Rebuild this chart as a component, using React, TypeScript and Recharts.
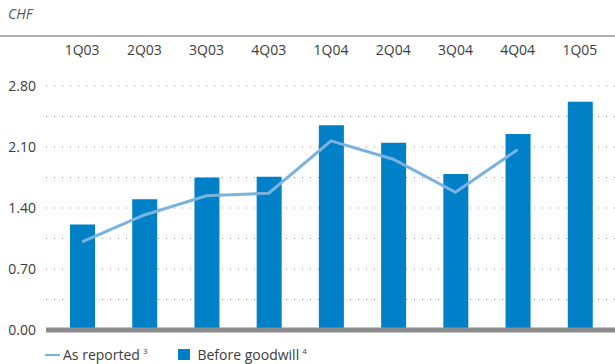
import { ComposedChart, Bar, Line, XAxis, YAxis, CartesianGrid, ReferenceLine } from "recharts"

const quarters = ["1Q03", "2Q03", "3Q03", "4Q03", "1Q04", "2Q04", "3Q04", "4Q04", "1Q05"]
const beforeGoodwill = [1.21, 1.5, 1.75, 1.76, 2.35, 2.15, 1.79, 2.25, 2.62]
const asReported = [1.01, 1.32, 1.54, 1.57, 2.17, 1.96, 1.58, 2.07, null]
const yTicks = [0, 0.35, 0.7, 1.05, 1.4, 1.75, 2.1, 2.45, 2.8]
const labelledTicks = [0, 0.7, 1.4, 2.1, 2.8]

const data = quarters.map((q, i) => ({ q, bg: beforeGoodwill[i], rep: asReported[i] }))

const font = "'Open Sans', 'Noto Sans', sans-serif"
const barBlue = "#0080c6"
const lineBlue = "#7ab3e0"

export default function App() {
  return (
    <div style={{ position: "absolute", left: 0, top: 0, width: 615, height: 364, fontFamily: font, color: "#3c3c3c" }}>
      <div style={{ position: "absolute", left: 8, top: 4, fontSize: 14, fontStyle: "italic", color: "#555" }}>CHF</div>
      <div style={{ position: "absolute", left: 0, top: 35, width: 615, height: 2, background: "#b0b0b0" }} />
      <ComposedChart width={615} height={364} data={data} margin={{ top: 36, right: 0, left: 0, bottom: 34 }}>
        <CartesianGrid vertical={false} stroke="#8a8a8a" strokeDasharray="1 7" />
        <XAxis
          dataKey="q"
          orientation="top"
          height={50}
          axisLine={false}
          tickLine={false}
          tickSize={0}
          tickMargin={31}
          interval={0}
          padding={{ left: 5, right: 4 }}
          tick={{ fill: "#3c3c3c", fontSize: 14, fontFamily: font }}
        />
        <YAxis
          width={46}
          domain={[0, 2.8]}
          ticks={yTicks}
          interval={0}
          axisLine={false}
          tickLine={false}
          tickSize={0}
          tickMargin={10}
          tickFormatter={(v: number) => (labelledTicks.includes(v) ? v.toFixed(2) : "")}
          tick={{ fill: "#3c3c3c", fontSize: 14, fontFamily: font }}
        />
        <Bar dataKey="bg" fill={barBlue} barSize={25} isAnimationActive={false} />
        <Line dataKey="rep" stroke={lineBlue} strokeWidth={3} dot={false} activeDot={false} type="linear" isAnimationActive={false} />
        <ReferenceLine y={0} stroke="#8c8c8c" strokeWidth={5} />
      </ComposedChart>
      <div style={{ position: "absolute", left: 45, top: 345, display: "flex", alignItems: "center", fontSize: 14, whiteSpace: "nowrap" }}>
        <span style={{ display: "inline-block", width: 15, height: 2, background: lineBlue, marginRight: 3 }} />
        <span>As reported</span>
        <sup style={{ fontSize: 8, marginLeft: 3, alignSelf: "flex-start" }}>3</sup>
        <span style={{ display: "inline-block", width: 12, height: 11, background: barBlue, marginLeft: 31, marginRight: 7 }} />
        <span>Before goodwill</span>
        <sup style={{ fontSize: 8, marginLeft: 3, alignSelf: "flex-start" }}>4</sup>
      </div>
    </div>
  )
}
